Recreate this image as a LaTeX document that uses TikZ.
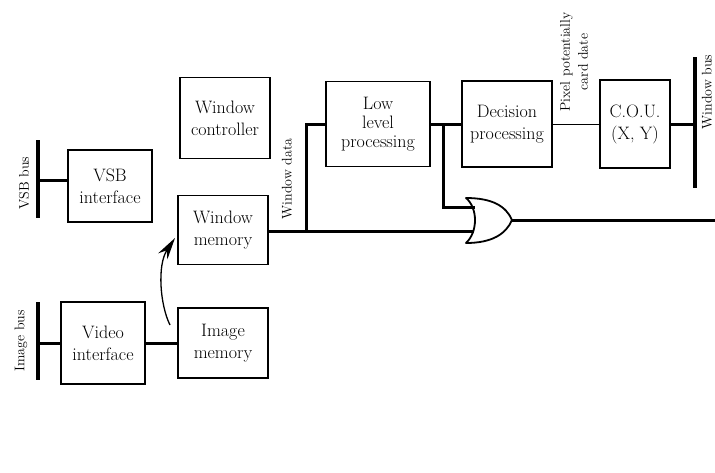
\documentclass[tikz,border=0pt]{standalone}
\usetikzlibrary{arrows.meta}

\begin{document}
\begin{tikzpicture}[x=1pt,y=-1pt,
  block/.style={draw,line width=1.8pt,inner sep=0pt,align=center,
  font=\fontsize{18}{22}\selectfont},
  bus/.style={line width=3.6pt},
  wire/.style={line width=3pt},
  bus label/.style={rotate=90,inner sep=0pt,align=center,
  font=\fontsize{14}{18}\selectfont}]

  \useasboundingbox (0,0) rectangle (715,472);

  % blocks
  \node[block,minimum width=84pt,minimum height=72pt] (VSBif) at (110,186) {VSB\\interface};
  \node[block,minimum width=90pt,minimum height=81pt] (WinCtrl) at (225,118) {Window\\controller};
  \node[block,minimum width=90pt,minimum height=69pt] (WinMem) at (223,230) {Window\\memory};
  \node[block,minimum width=104pt,minimum height=85pt,
    font=\fontsize{18}{19}\selectfont] (LowLev) at (378,124) {Low\\level\\processing};
  \node[block,minimum width=90pt,minimum height=86pt] (Decision) at (507,124) {Decision\\processing};
  \node[block,minimum width=70pt,minimum height=88pt] (COU) at (635,124) {C.O.U.\\(X, Y)};
  \node[block,minimum width=84pt,minimum height=82pt] (VideoIf) at (103,343) {Video\\interface};
  \node[block,minimum width=90pt,minimum height=70pt] (ImgMem) at (223,343) {Image\\memory};

  % or gate
  \coordinate (orin1) at (475,207);
  \coordinate (orin2) at (474,231);
  \coordinate (orout) at (512,220);
  \draw[line width=1.8pt,line join=round] (466,198)
    .. controls (478,208) and (478,232) .. (466,243)
    .. controls (492,243) and (506,234) .. (orout)
    .. controls (506,206) and (492,198) .. cycle;

  % buses
  \coordinate (vsbtop) at (38,140);
  \coordinate (vsbbot) at (38,218);
  \coordinate (imgtop) at (38,302);
  \coordinate (imgbot) at (38,380);
  \coordinate (winbustop) at (695,57);
  \coordinate (winbusbot) at (695,188);
  \coordinate (rightend) at (715,220);
  \coordinate (wdfork) at (306,231);
  \coordinate (llfork) at (443,124);
  \coordinate (arrowtail) at (170,325);
  \coordinate (arrowtip) at (175,238);

  \draw[bus] (vsbtop) -- (vsbbot);
  \draw[bus] (imgtop) -- (imgbot);
  \draw[bus] (winbustop) -- (winbusbot);

  % labels
  \node[bus label] (vsblabel) at (24,183) {VSB bus};
  \node[bus label] (imglabel) at (21,341) {Image bus};
  \node[bus label] (wdlabel) at (287,179) {Window data};
  \node[bus label] (pixlabel) at (574,62) {Pixel potentially\\card date};
  \node[bus label] (wblabel) at (707,92) {Window bus};

  % connections
  \draw[wire] ([yshift=6pt]VSBif.west) -- ([yshift=6pt]VSBif.west -| vsbtop);
  \draw[wire] (VideoIf.west) -- (VideoIf.west -| imgtop);
  \draw[wire] (VideoIf) -- (ImgMem);
  \draw[wire] (WinMem.east |- orin2) -- (orin2);
  \draw[wire] (wdfork) |- (LowLev.west);
  \draw[wire] (LowLev) -- (Decision);
  \draw[wire] (llfork) |- (orin1);
  \draw[line width=0.8pt] (Decision) -- (COU);
  \draw[wire] (COU) -- (COU -| winbustop);
  \draw[wire] (orout) -- (rightend);
  \draw[line width=1.3pt,-{Stealth[length=22pt,width=11pt]}] (arrowtail)
    .. controls (160,305) and (157,265) .. (arrowtip);
\end{tikzpicture}
\end{document}
